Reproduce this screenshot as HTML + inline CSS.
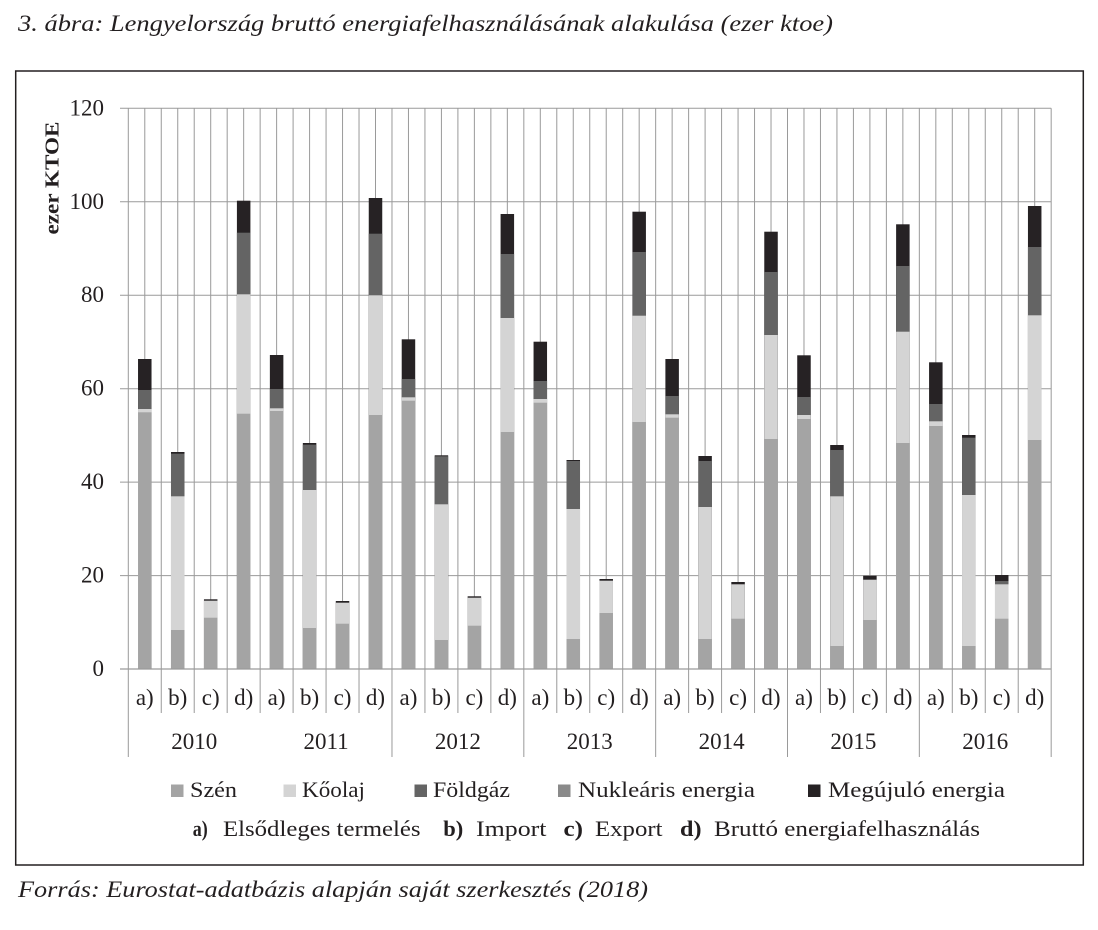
<!DOCTYPE html>
<html><head><meta charset="utf-8">
<style>
html,body{margin:0;padding:0;background:#fff;}
svg{display:block;}
text{font-family:"Liberation Serif",serif;fill:#231f20;}
</style></head>
<body>
<svg width="1098" height="930" viewBox="0 0 1098 930" xmlns="http://www.w3.org/2000/svg">
<rect x="0" y="0" width="1098" height="930" fill="#fff"/>
<!-- title -->
<text x="18" y="31" font-size="23" font-style="italic" textLength="815" lengthAdjust="spacingAndGlyphs">3. ábra: Lengyelország bruttó energiafelhasználásának alakulása (ezer ktoe)</text>
<!-- frame -->
<rect x="15.7" y="71" width="1067.6" height="794" fill="none" stroke="#231f20" stroke-width="1.5"/>

<!-- horizontal gridlines -->
<g stroke="#9a9a9a" stroke-width="1">
<line x1="120" y1="108.3" x2="1051.2" y2="108.3"/>
<line x1="120" y1="201.8" x2="1051.2" y2="201.8"/>
<line x1="120" y1="295.2" x2="1051.2" y2="295.2"/>
<line x1="120" y1="388.7" x2="1051.2" y2="388.7"/>
<line x1="120" y1="482.1" x2="1051.2" y2="482.1"/>
<line x1="120" y1="575.6" x2="1051.2" y2="575.6"/>
</g>
<!-- vertical gridlines -->
<path stroke="#9a9a9a" stroke-width="1" fill="none" d="
M128.3 108.3V757 M144.78 108.3V669 M161.26 108.3V713 M177.74 108.3V669 M194.22 108.3V713 M210.7 108.3V669 M227.18 108.3V713 M243.66 108.3V669
M260.14 108.3V713 M276.62 108.3V669 M293.1 108.3V713 M309.58 108.3V669 M326.06 108.3V713 M342.54 108.3V669 M359.02 108.3V713 M375.5 108.3V669
M391.98 108.3V757 M408.46 108.3V669 M424.94 108.3V713 M441.42 108.3V669 M457.9 108.3V713 M474.38 108.3V669 M490.86 108.3V713 M507.34 108.3V669
M523.82 108.3V757 M540.3 108.3V669 M556.78 108.3V713 M573.26 108.3V669 M589.74 108.3V713 M606.22 108.3V669 M622.7 108.3V713 M639.18 108.3V669
M655.66 108.3V757 M672.14 108.3V669 M688.62 108.3V713 M705.1 108.3V669 M721.58 108.3V713 M738.06 108.3V669 M754.54 108.3V713 M771.02 108.3V669
M787.5 108.3V757 M803.98 108.3V669 M820.46 108.3V713 M836.94 108.3V669 M853.42 108.3V713 M869.9 108.3V669 M886.38 108.3V713 M902.86 108.3V669
M919.34 108.3V757 M935.82 108.3V669 M952.3 108.3V713 M968.78 108.3V669 M985.26 108.3V713 M1001.74 108.3V669 M1018.22 108.3V713 M1034.7 108.3V669
M1051.18 108.3V757
"/>

<!-- bars: drawn renew(full), gas, oil, coal overlapping -->
<g>
<!-- 2010 a -->
<rect x="138.03" y="359" width="13.5" height="310" fill="#262224"/>
<rect x="138.03" y="390" width="13.5" height="279" fill="#646464"/>
<rect x="138.03" y="409" width="13.5" height="260" fill="#d4d4d4"/>
<rect x="138.03" y="412.3" width="13.5" height="256.7" fill="#a4a4a4"/>
<!-- 2010 b -->
<rect x="170.99" y="452" width="13.5" height="217" fill="#262224"/>
<rect x="170.99" y="453.7" width="13.5" height="215.3" fill="#646464"/>
<rect x="170.99" y="496.3" width="13.5" height="172.7" fill="#d4d4d4"/>
<rect x="170.99" y="630" width="13.5" height="39" fill="#a4a4a4"/>
<!-- 2010 c -->
<rect x="203.95" y="599.3" width="13.5" height="69.7" fill="#262224"/>
<rect x="203.95" y="600.7" width="13.5" height="68.3" fill="#d4d4d4"/>
<rect x="203.95" y="617.7" width="13.5" height="51.3" fill="#a4a4a4"/>
<!-- 2010 d -->
<rect x="236.91" y="200.7" width="13.5" height="468.3" fill="#262224"/>
<rect x="236.91" y="232.7" width="13.5" height="436.3" fill="#646464"/>
<rect x="236.91" y="294.3" width="13.5" height="374.7" fill="#d4d4d4"/>
<rect x="236.91" y="413.7" width="13.5" height="255.3" fill="#a4a4a4"/>
<!-- 2011 a -->
<rect x="269.87" y="355" width="13.5" height="314" fill="#262224"/>
<rect x="269.87" y="389" width="13.5" height="280" fill="#646464"/>
<rect x="269.87" y="408.3" width="13.5" height="260.7" fill="#d4d4d4"/>
<rect x="269.87" y="411" width="13.5" height="258" fill="#a4a4a4"/>
<!-- 2011 b -->
<rect x="302.83" y="443" width="13.5" height="226" fill="#262224"/>
<rect x="302.83" y="444.7" width="13.5" height="224.3" fill="#646464"/>
<rect x="302.83" y="490" width="13.5" height="179" fill="#d4d4d4"/>
<rect x="302.83" y="628" width="13.5" height="41" fill="#a4a4a4"/>
<!-- 2011 c -->
<rect x="335.79" y="601" width="13.5" height="68" fill="#262224"/>
<rect x="335.79" y="602.7" width="13.5" height="66.3" fill="#d4d4d4"/>
<rect x="335.79" y="623.7" width="13.5" height="45.3" fill="#a4a4a4"/>
<!-- 2011 d -->
<rect x="368.75" y="198" width="13.5" height="471" fill="#262224"/>
<rect x="368.75" y="233.7" width="13.5" height="435.3" fill="#646464"/>
<rect x="368.75" y="295.3" width="13.5" height="373.7" fill="#d4d4d4"/>
<rect x="368.75" y="415" width="13.5" height="254" fill="#a4a4a4"/>
<!-- 2012 a -->
<rect x="401.71" y="339.3" width="13.5" height="329.7" fill="#262224"/>
<rect x="401.71" y="379" width="13.5" height="290" fill="#646464"/>
<rect x="401.71" y="397.3" width="13.5" height="271.7" fill="#d4d4d4"/>
<rect x="401.71" y="400.7" width="13.5" height="268.3" fill="#a4a4a4"/>
<!-- 2012 b -->
<rect x="434.67" y="455.3" width="13.5" height="213.7" fill="#262224"/>
<rect x="434.67" y="456.3" width="13.5" height="212.7" fill="#646464"/>
<rect x="434.67" y="504.3" width="13.5" height="164.7" fill="#d4d4d4"/>
<rect x="434.67" y="640" width="13.5" height="29" fill="#a4a4a4"/>
<!-- 2012 c -->
<rect x="467.63" y="596.3" width="13.5" height="72.7" fill="#262224"/>
<rect x="467.63" y="597.7" width="13.5" height="71.3" fill="#d4d4d4"/>
<rect x="467.63" y="625.7" width="13.5" height="43.3" fill="#a4a4a4"/>
<!-- 2012 d -->
<rect x="500.59" y="214" width="13.5" height="455" fill="#262224"/>
<rect x="500.59" y="254" width="13.5" height="415" fill="#646464"/>
<rect x="500.59" y="318" width="13.5" height="351" fill="#d4d4d4"/>
<rect x="500.59" y="432" width="13.5" height="237" fill="#a4a4a4"/>
<!-- 2013 a -->
<rect x="533.55" y="341.7" width="13.5" height="327.3" fill="#262224"/>
<rect x="533.55" y="381" width="13.5" height="288" fill="#646464"/>
<rect x="533.55" y="399" width="13.5" height="270" fill="#d4d4d4"/>
<rect x="533.55" y="402.7" width="13.5" height="266.3" fill="#a4a4a4"/>
<!-- 2013 b -->
<rect x="566.51" y="460" width="13.5" height="209" fill="#262224"/>
<rect x="566.51" y="461" width="13.5" height="208" fill="#646464"/>
<rect x="566.51" y="509" width="13.5" height="160" fill="#d4d4d4"/>
<rect x="566.51" y="639" width="13.5" height="30" fill="#a4a4a4"/>
<!-- 2013 c -->
<rect x="599.47" y="579" width="13.5" height="90" fill="#262224"/>
<rect x="599.47" y="580.7" width="13.5" height="88.3" fill="#d4d4d4"/>
<rect x="599.47" y="613" width="13.5" height="56" fill="#a4a4a4"/>
<!-- 2013 d -->
<rect x="632.43" y="211.7" width="13.5" height="457.3" fill="#262224"/>
<rect x="632.43" y="252" width="13.5" height="417" fill="#646464"/>
<rect x="632.43" y="315.7" width="13.5" height="353.3" fill="#d4d4d4"/>
<rect x="632.43" y="422" width="13.5" height="247" fill="#a4a4a4"/>
<!-- 2014 a -->
<rect x="665.39" y="359" width="13.5" height="310" fill="#262224"/>
<rect x="665.39" y="396" width="13.5" height="273" fill="#646464"/>
<rect x="665.39" y="414.3" width="13.5" height="254.7" fill="#d4d4d4"/>
<rect x="665.39" y="417.7" width="13.5" height="251.3" fill="#a4a4a4"/>
<!-- 2014 b -->
<rect x="698.35" y="456" width="13.5" height="213" fill="#262224"/>
<rect x="698.35" y="461" width="13.5" height="208" fill="#646464"/>
<rect x="698.35" y="507" width="13.5" height="162" fill="#d4d4d4"/>
<rect x="698.35" y="639" width="13.5" height="30" fill="#a4a4a4"/>
<!-- 2014 c -->
<rect x="731.31" y="582" width="13.5" height="87" fill="#262224"/>
<rect x="731.31" y="584.3" width="13.5" height="84.7" fill="#d4d4d4"/>
<rect x="731.31" y="618.7" width="13.5" height="50.3" fill="#a4a4a4"/>
<!-- 2014 d -->
<rect x="764.27" y="231.7" width="13.5" height="437.3" fill="#262224"/>
<rect x="764.27" y="272" width="13.5" height="397" fill="#646464"/>
<rect x="764.27" y="335" width="13.5" height="334" fill="#d4d4d4"/>
<rect x="764.27" y="439" width="13.5" height="230" fill="#a4a4a4"/>
<!-- 2015 a -->
<rect x="797.23" y="355.3" width="13.5" height="313.7" fill="#262224"/>
<rect x="797.23" y="397" width="13.5" height="272" fill="#646464"/>
<rect x="797.23" y="415" width="13.5" height="254" fill="#d4d4d4"/>
<rect x="797.23" y="419" width="13.5" height="250" fill="#a4a4a4"/>
<!-- 2015 b -->
<rect x="830.19" y="445" width="13.5" height="224" fill="#262224"/>
<rect x="830.19" y="450" width="13.5" height="219" fill="#646464"/>
<rect x="830.19" y="496.3" width="13.5" height="172.7" fill="#d4d4d4"/>
<rect x="830.19" y="646" width="13.5" height="23" fill="#a4a4a4"/>
<!-- 2015 c -->
<rect x="863.15" y="575.7" width="13.5" height="93.3" fill="#262224"/>
<rect x="863.15" y="579.7" width="13.5" height="89.3" fill="#d4d4d4"/>
<rect x="863.15" y="620" width="13.5" height="49" fill="#a4a4a4"/>
<!-- 2015 d -->
<rect x="896.11" y="224.3" width="13.5" height="444.7" fill="#262224"/>
<rect x="896.11" y="266" width="13.5" height="403" fill="#646464"/>
<rect x="896.11" y="331.7" width="13.5" height="337.3" fill="#d4d4d4"/>
<rect x="896.11" y="443" width="13.5" height="226" fill="#a4a4a4"/>
<!-- 2016 a -->
<rect x="929.07" y="362.3" width="13.5" height="306.7" fill="#262224"/>
<rect x="929.07" y="404" width="13.5" height="265" fill="#646464"/>
<rect x="929.07" y="421.3" width="13.5" height="247.7" fill="#d4d4d4"/>
<rect x="929.07" y="426" width="13.5" height="243" fill="#a4a4a4"/>
<!-- 2016 b -->
<rect x="962.03" y="435" width="13.5" height="234" fill="#262224"/>
<rect x="962.03" y="437.7" width="13.5" height="231.3" fill="#646464"/>
<rect x="962.03" y="495" width="13.5" height="174" fill="#d4d4d4"/>
<rect x="962.03" y="646" width="13.5" height="23" fill="#a4a4a4"/>
<!-- 2016 c -->
<rect x="994.99" y="575" width="13.5" height="94" fill="#262224"/>
<rect x="994.99" y="581" width="13.5" height="88" fill="#646464"/>
<rect x="994.99" y="584.3" width="13.5" height="84.7" fill="#d4d4d4"/>
<rect x="994.99" y="618.7" width="13.5" height="50.3" fill="#a4a4a4"/>
<!-- 2016 d -->
<rect x="1027.95" y="206" width="13.5" height="463" fill="#262224"/>
<rect x="1027.95" y="247" width="13.5" height="422" fill="#646464"/>
<rect x="1027.95" y="315.3" width="13.5" height="353.7" fill="#d4d4d4"/>
<rect x="1027.95" y="440" width="13.5" height="229" fill="#a4a4a4"/>
</g>

<!-- x axis line -->
<line x1="120" y1="669" x2="1051.2" y2="669" stroke="#9a9a9a" stroke-width="1.2"/>

<!-- y tick labels -->
<g font-size="23" text-anchor="end">
<text x="104" y="115.3">120</text>
<text x="104" y="208.8">100</text>
<text x="104" y="302.2">80</text>
<text x="104" y="395.7">60</text>
<text x="104" y="489.1">40</text>
<text x="104" y="582.6">20</text>
<text x="104" y="676">0</text>
</g>
<text transform="translate(58.5,178) rotate(-90)" font-size="20" font-weight="bold" text-anchor="middle" textLength="113" lengthAdjust="spacingAndGlyphs">ezer KTOE</text>

<!-- category labels -->
<g font-size="23" text-anchor="middle">
<text x="144.78" y="705">a)</text><text x="177.74" y="705">b)</text><text x="210.7" y="705">c)</text><text x="243.66" y="705">d)</text>
<text x="276.62" y="705">a)</text><text x="309.58" y="705">b)</text><text x="342.54" y="705">c)</text><text x="375.5" y="705">d)</text>
<text x="408.46" y="705">a)</text><text x="441.42" y="705">b)</text><text x="474.38" y="705">c)</text><text x="507.34" y="705">d)</text>
<text x="540.3" y="705">a)</text><text x="573.26" y="705">b)</text><text x="606.22" y="705">c)</text><text x="639.18" y="705">d)</text>
<text x="672.14" y="705">a)</text><text x="705.1" y="705">b)</text><text x="738.06" y="705">c)</text><text x="771.02" y="705">d)</text>
<text x="803.98" y="705">a)</text><text x="836.94" y="705">b)</text><text x="869.9" y="705">c)</text><text x="902.86" y="705">d)</text>
<text x="935.82" y="705">a)</text><text x="968.78" y="705">b)</text><text x="1001.74" y="705">c)</text><text x="1034.7" y="705">d)</text>
</g>
<g font-size="23" text-anchor="middle">
<text x="194.22" y="749">2010</text>
<text x="326.06" y="749">2011</text>
<text x="457.9" y="749">2012</text>
<text x="589.74" y="749">2013</text>
<text x="721.58" y="749">2014</text>
<text x="853.42" y="749">2015</text>
<text x="985.26" y="749">2016</text>
</g>

<!-- legend -->
<rect x="171" y="784.5" width="12.5" height="12.5" fill="#a4a4a4"/>
<text x="190" y="797" font-size="22" textLength="47" lengthAdjust="spacingAndGlyphs">Szén</text>
<rect x="283.5" y="784.5" width="12.5" height="12.5" fill="#d4d4d4"/>
<text x="302" y="797" font-size="22" textLength="63" lengthAdjust="spacingAndGlyphs">Kőolaj</text>
<rect x="414.5" y="784.5" width="12.5" height="12.5" fill="#646464"/>
<text x="433" y="797" font-size="22" textLength="77" lengthAdjust="spacingAndGlyphs">Földgáz</text>
<rect x="558" y="784.5" width="12.5" height="12.5" fill="#8a8a8a"/>
<text x="578" y="797" font-size="22" textLength="177" lengthAdjust="spacingAndGlyphs">Nukleáris energia</text>
<rect x="808" y="784.5" width="12.5" height="12.5" fill="#262224"/>
<text x="828" y="797" font-size="22" textLength="177" lengthAdjust="spacingAndGlyphs">Megújuló energia</text>

<g font-size="22">
<text x="192.7" y="836" font-weight="bold" textLength="15" lengthAdjust="spacingAndGlyphs">a)</text>
<text x="223" y="836" textLength="197.5" lengthAdjust="spacingAndGlyphs">Elsődleges termelés</text>
<text x="443.3" y="836" font-weight="bold" textLength="20" lengthAdjust="spacingAndGlyphs">b)</text>
<text x="476" y="836" textLength="70.5" lengthAdjust="spacingAndGlyphs">Import</text>
<text x="563.5" y="836" font-weight="bold" textLength="19.5" lengthAdjust="spacingAndGlyphs">c)</text>
<text x="595" y="836" textLength="67.5" lengthAdjust="spacingAndGlyphs">Export</text>
<text x="680" y="836" font-weight="bold" textLength="21.5" lengthAdjust="spacingAndGlyphs">d)</text>
<text x="714" y="836" textLength="266" lengthAdjust="spacingAndGlyphs">Bruttó energiafelhasználás</text>
</g>

<!-- footer -->
<text x="18" y="897" font-size="23" font-style="italic" textLength="630" lengthAdjust="spacingAndGlyphs">Forrás: Eurostat-adatbázis alapján saját szerkesztés (2018)</text>
</svg>
</body></html>
